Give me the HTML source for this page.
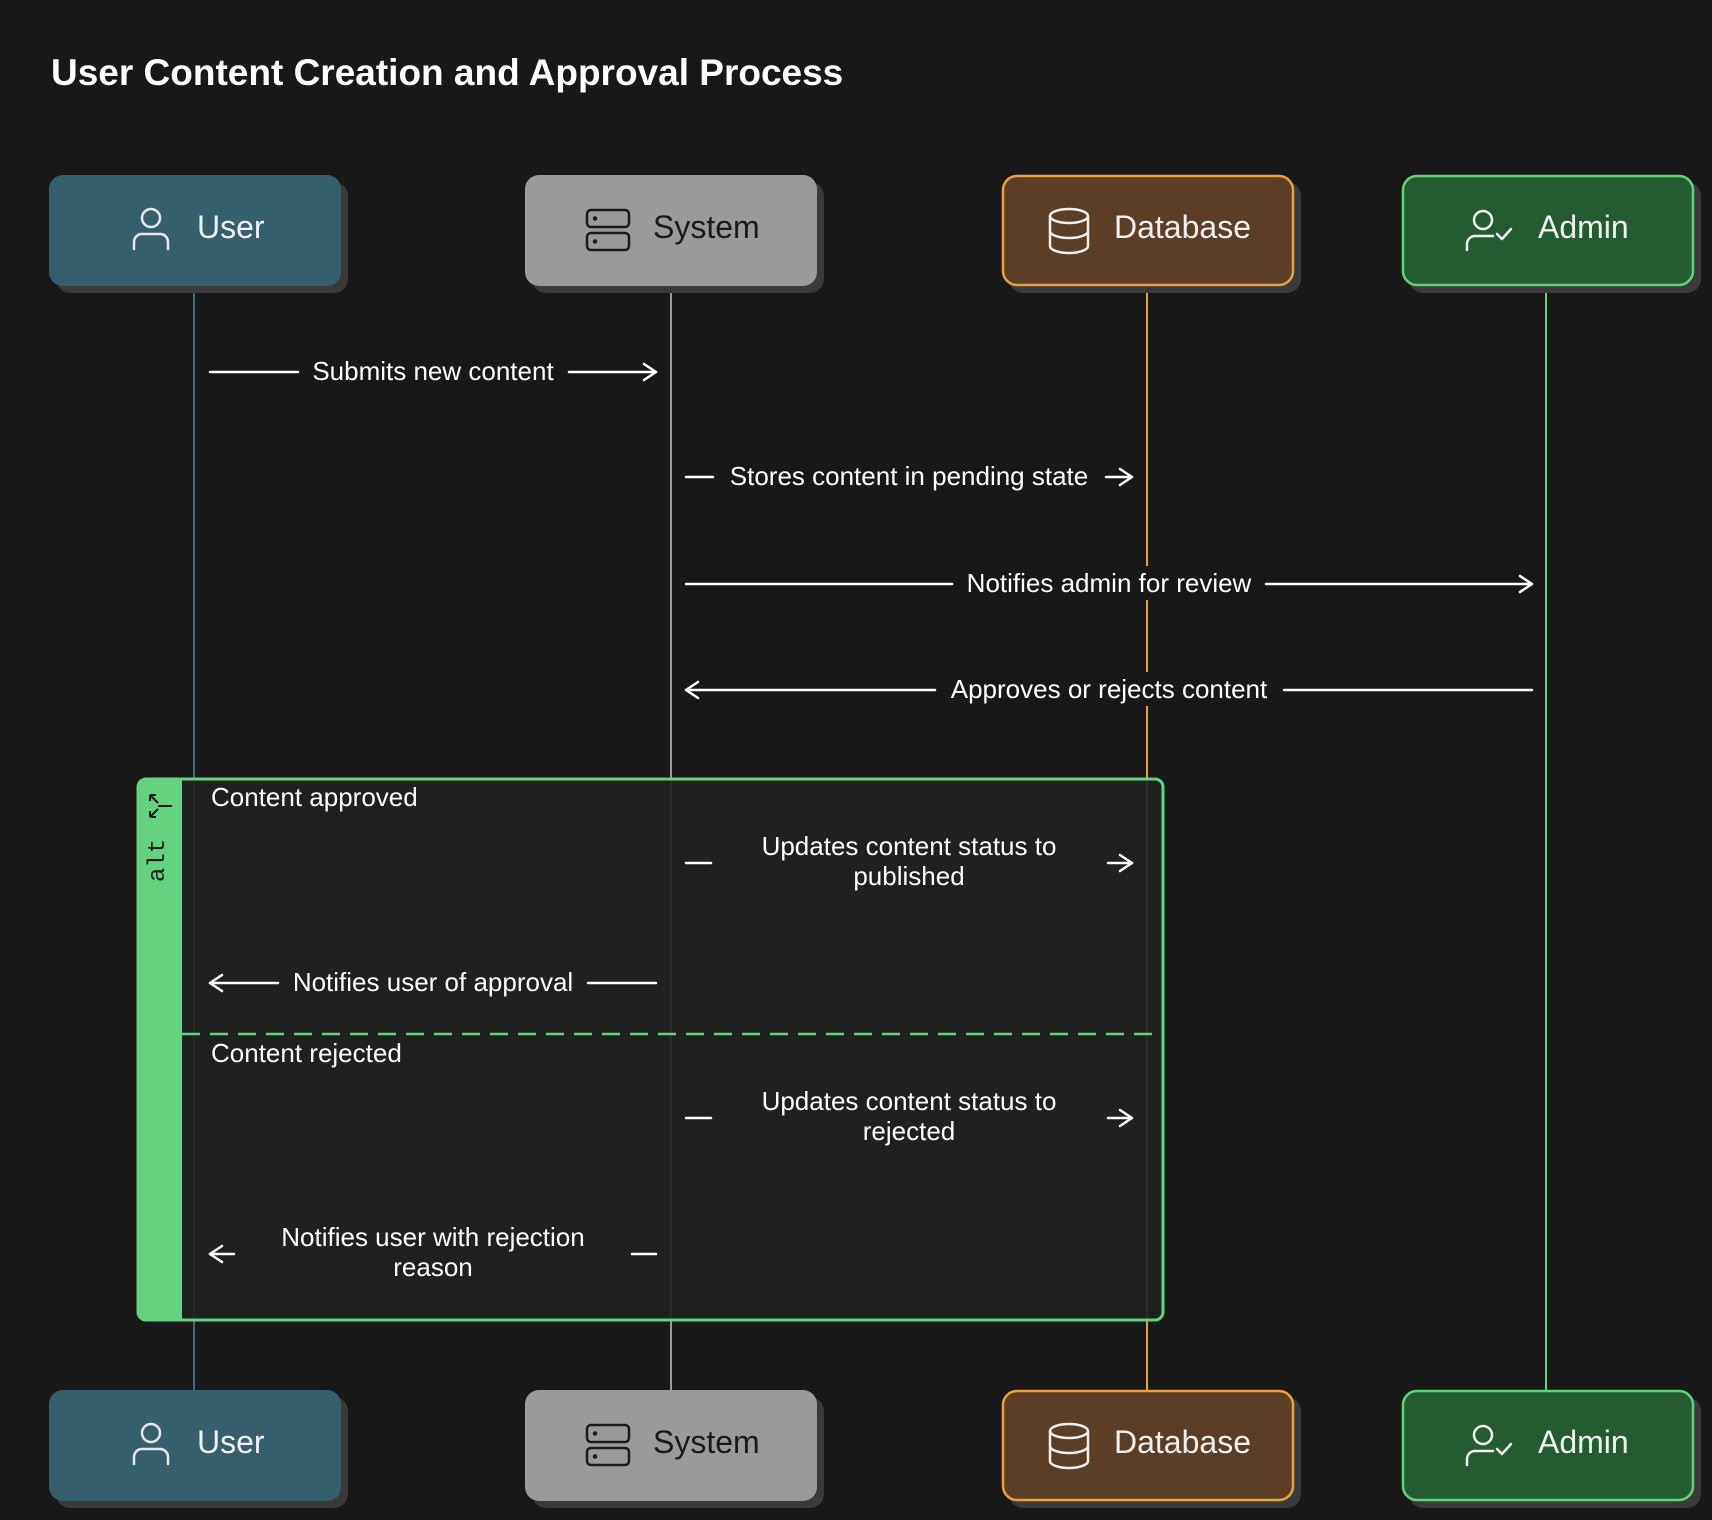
<!DOCTYPE html>
<html><head><meta charset="utf-8"><style>
html,body{margin:0;padding:0;background:#181818;}
svg{display:block;}
.s{font-family:"Liberation Sans",Arial,sans-serif;}
</style></head><body>
<svg width="1712" height="1520" viewBox="0 0 1712 1520" xmlns="http://www.w3.org/2000/svg">
<rect width="1712" height="1520" fill="#181818"/>
<text class="s" x="51" y="85" font-size="37" font-weight="bold" fill="#ffffff">User Content Creation and Approval Process</text>

<!-- lifelines -->
<line x1="194" y1="286" x2="194" y2="1390" stroke="#3d6b7c" stroke-width="2"/>
<line x1="671" y1="286" x2="671" y2="1390" stroke="#9a9a9a" stroke-width="2"/>
<line x1="1147" y1="286" x2="1147" y2="1390" stroke="#e8a33a" stroke-width="2"/>
<line x1="1546" y1="286" x2="1546" y2="1390" stroke="#5fd47a" stroke-width="2"/>

<!-- label backgrounds -->
<rect x="955" y="566" width="308" height="34" fill="#181818"/>
<rect x="938" y="672" width="343" height="34" fill="#181818"/>

<!-- alt frame -->
<rect x="138" y="779" width="1025" height="541" rx="8" fill="#1f2320" fill-opacity="0.92" stroke="#64d27e" stroke-width="3"/>
<path d="M146 779 H182 V1320 H146 A8 8 0 0 1 138 1312 V787 A8 8 0 0 1 146 779 Z" fill="#64d27e"/>
<line x1="182" y1="1034" x2="1163" y2="1034" stroke="#64d27e" stroke-width="2.5" stroke-dasharray="18 10"/>
<text transform="translate(164,882) rotate(-90)" style="font-family:'Liberation Mono',monospace" font-size="24" fill="#1a1a1a">alt</text>
<g stroke="#1a1a1a" stroke-width="2" fill="none">
<path d="M150 795 L158 803 M150 795 v6 M150 795 h6 M150 817 L158 809 M150 817 v-6 M150 817 h6 M158 806 h14"/>
</g>
<g class="s" font-size="26" fill="#ffffff">
<text x="211" y="806">Content approved</text>
<text x="211" y="1062">Content rejected</text>
</g>

<g stroke="#ffffff" stroke-width="2.5" fill="none" stroke-linecap="round" stroke-linejoin="round">
<line x1="210" y1="372" x2="298" y2="372"/><line x1="569" y1="372" x2="656" y2="372"/>
<path d="M644 364 L656 372 L644 380"/>
<line x1="686" y1="477" x2="713" y2="477"/><line x1="1106" y1="477" x2="1132" y2="477"/>
<path d="M1120 469 L1132 477 L1120 485"/>
<line x1="686" y1="584" x2="952" y2="584"/><line x1="1266" y1="584" x2="1532" y2="584"/>
<path d="M1520 576 L1532 584 L1520 592"/>
<line x1="686" y1="690" x2="935" y2="690"/><line x1="1284" y1="690" x2="1532" y2="690"/>
<path d="M698 682 L686 690 L698 698"/>
<line x1="686" y1="863" x2="711" y2="863"/><line x1="1108" y1="863" x2="1132" y2="863"/>
<path d="M1120 855 L1132 863 L1120 871"/>
<line x1="210" y1="983" x2="278" y2="983"/><line x1="588" y1="983" x2="656" y2="983"/>
<path d="M222 975 L210 983 L222 991"/>
<line x1="686" y1="1118" x2="711" y2="1118"/><line x1="1108" y1="1118" x2="1132" y2="1118"/>
<path d="M1120 1110 L1132 1118 L1120 1126"/>
<line x1="210" y1="1254" x2="234" y2="1254"/><line x1="632" y1="1254" x2="656" y2="1254"/>
<path d="M222 1246 L210 1254 L222 1262"/>
</g>
<g class="s" font-size="26" fill="#ffffff" text-anchor="middle">
<text x="433" y="380">Submits new content</text>
<text x="909" y="485">Stores content in pending state</text>
<text x="1109" y="592">Notifies admin for review</text>
<text x="1109" y="698">Approves or rejects content</text>
<text x="909" y="855">Updates content status to</text>
<text x="909" y="885">published</text>
<text x="433" y="991">Notifies user of approval</text>
<text x="909" y="1110">Updates content status to</text>
<text x="909" y="1140">rejected</text>
<text x="433" y="1246">Notifies user with rejection</text>
<text x="433" y="1276">reason</text>
</g>

<defs>
<g id="userIcon" fill="none" stroke-width="2.5" stroke-linecap="round">
<circle cx="0" cy="-12" r="9"/><path d="M-17 19 V12 A8 8 0 0 1 -9 4 H9 A8 8 0 0 1 17 12 V19"/>
</g>
<g id="sysIcon" fill="none" stroke-width="2.5">
<rect x="-21" y="-20" width="42" height="17" rx="4"/><rect x="-21" y="3" width="42" height="17" rx="4"/>
<circle cx="-13" cy="-11.5" r="1"/><circle cx="-13" cy="11.5" r="1"/>
</g>
<g id="dbIcon" fill="none" stroke-width="2.5">
<ellipse cx="0" cy="-14" rx="19" ry="7"/><path d="M-19 -14 V16 A19 7 0 0 0 19 16 V-14 M-19 1 A19 7 0 0 0 19 1"/>
</g>
<g id="admIcon" fill="none" stroke-width="2.5" stroke-linecap="round" stroke-linejoin="round">
<circle cx="-6" cy="-10" r="9"/><path d="M-22 20 V14 A8 8 0 0 1 -14 6 H4"/><path d="M8 4 L13 9 L22 -1"/>
</g>
<g id="actors">
<rect x="56" y="182" width="292" height="111" rx="14" fill="#3a3a3a"/>
<rect x="49" y="175" width="292" height="111" rx="14" fill="#365f6e"/>
<use href="#userIcon" x="151" y="230" stroke="#e8e8e8"/>
<text class="s" x="197" y="238" font-size="32" fill="#f0f0f0">User</text>
<rect x="532" y="182" width="292" height="111" rx="14" fill="#3a3a3a"/>
<rect x="525" y="175" width="292" height="111" rx="14" fill="#9a9a9a"/>
<use href="#sysIcon" x="608" y="230" stroke="#1a1a1a"/>
<text class="s" x="653" y="238" font-size="32" fill="#1a1a1a">System</text>
<rect x="1009" y="182" width="292" height="111" rx="14" fill="#3a3a3a"/>
<rect x="1003" y="176" width="290" height="109" rx="14" fill="#5c3d26" stroke="#e8a33a" stroke-width="2.5"/>
<use href="#dbIcon" x="1069" y="230" stroke="#f0f0f0"/>
<text class="s" x="1114" y="238" font-size="32" fill="#f0f0f0">Database</text>
<rect x="1409" y="182" width="292" height="111" rx="14" fill="#3a3a3a"/>
<rect x="1403" y="176" width="290" height="109" rx="14" fill="#245b30" stroke="#5fd47a" stroke-width="2.5"/>
<use href="#admIcon" x="1489" y="230" stroke="#f0f0f0"/>
<text class="s" x="1538" y="238" font-size="32" fill="#f0f0f0">Admin</text>
</g>
</defs>
<use href="#actors"/>
<use href="#actors" y="1215"/>
</svg>
</body></html>
